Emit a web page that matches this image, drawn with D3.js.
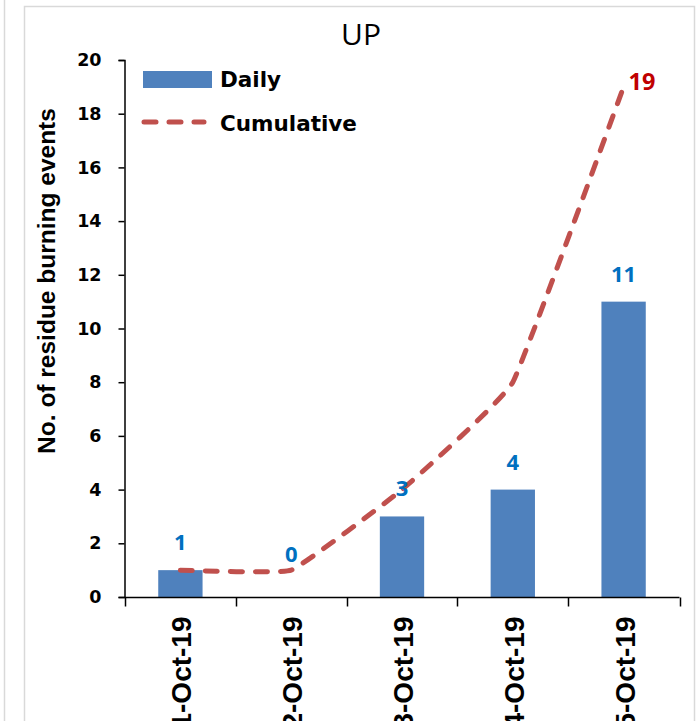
<!DOCTYPE html>
<html>
<head>
<meta charset="utf-8">
<script src="https://cdn.jsdelivr.net/npm/d3@7"></script>
<style>
    body { margin: 0; background: #fff; }
    svg { display: block; }
</style>
</head>
<body>
<div id="chart"></div>
<script>
//Chart values
var dates = ["1-Oct-19", "2-Oct-19", "3-Oct-19", "4-Oct-19", "5-Oct-19"];
var daily = [1, 0, 3, 4, 11];
var cumulative = [1, 1, 4, 8, 19];
var yTicks = [0, 2, 4, 6, 8, 10, 12, 14, 16, 18, 20];
var seriesNames = ["Daily", "Cumulative"];

var width = 697,
    height = 721;

var svg = d3.select("#chart").append("svg")
    .attr("width", width)
    .attr("height", height);

//Frame lines like the spreadsheet chart area
svg.append("line")
    .attr("x1", 4.5).attr("x2", 4.5)
    .attr("y1", 0).attr("y2", height)
    .attr("stroke", "#d9d9d9").attr("stroke-width", 1.5);
svg.append("rect")
    .attr("x", 24.5).attr("y", 6.5)
    .attr("width", 670).attr("height", height + 20)
    .attr("fill", "#fff")
    .attr("stroke", "#d9d9d9").attr("stroke-width", 1.5);

//Scales
var x = d3.scaleBand()
    .domain(dates)
    .range([125, 679])
    .paddingInner(0.6)
    .paddingOuter(0.3);

var y = d3.scaleLinear()
    .domain([0, 20])
    .range([597, 60]);

function cx(d) {
    return x(d) + x.bandwidth() / 2;
}

//Title
svg.append("text")
    .attr("x", 361)
    .attr("y", 45)
    .attr("text-anchor", "middle")
    .style("font-family", "'Open Sans', sans-serif")
    .style("font-size", "30px")
    .text("UP");

//Bars
svg.append("g").selectAll("rect")
    .data(daily)
    .enter().append("rect")
    .attr("x", function (d, i) { return x(dates[i]); })
    .attr("y", function (d) { return y(d); })
    .attr("width", x.bandwidth())
    .attr("height", function (d) { return y(0) - y(d); })
    .attr("fill", "#4F81BD");

//Y axis
var yAxis = svg.append("g")
    .attr("transform", "translate(124.5,0)")
    .call(d3.axisLeft(y).tickValues(yTicks).tickSize(6).tickPadding(17));
yAxis.select(".domain").attr("stroke-width", 1.5);
yAxis.selectAll(".tick line").attr("stroke-width", 1.5);
yAxis.selectAll(".tick text")
    .style("font-family", "'DejaVu Sans', sans-serif")
    .style("font-weight", "bold")
    .style("font-size", "17.5px")
    .attr("fill", "#000");

//X axis - ticks sit on the band edges, excel style
var xAxisG = svg.append("g").attr("transform", "translate(0,597.5)");
xAxisG.append("line")
    .attr("x1", 124.5).attr("x2", 679.5)
    .attr("stroke", "#000").attr("stroke-width", 1.5);
var edges = dates.map(function (d) { return x(d) - x.step() * x.paddingInner() / 2; });
edges.push(679.5);
xAxisG.selectAll(".edge")
    .data(edges)
    .enter().append("line")
    .attr("class", "edge")
    .attr("x1", function (d) { return Math.round(d) + 0.5; })
    .attr("x2", function (d) { return Math.round(d) + 0.5; })
    .attr("y1", 0).attr("y2", 9)
    .attr("stroke", "#000").attr("stroke-width", 1.5);
xAxisG.selectAll(".lbl")
    .data(dates)
    .enter().append("text")
    .attr("class", "lbl")
    .attr("transform", function (d) { return "translate(" + (cx(d) + 11) + ",19) rotate(-90)"; })
    .attr("text-anchor", "end")
    .style("font-family", "'Liberation Sans', Arial, sans-serif")
    .style("font-weight", "bold")
    .style("font-size", "28px")
    .text(function (d) { return d; });

//Y axis title
svg.append("text")
    .attr("transform", "translate(55,281) rotate(-90)")
    .attr("text-anchor", "middle")
    .style("font-family", "'Liberation Sans', Arial, sans-serif")
    .style("font-weight", "bold")
    .style("font-size", "24.5px")
    .text("No. of residue burning events");

//Cumulative line (lightly smoothed, dashed)
var line = d3.line()
    .x(function (d, i) { return cx(dates[i]); })
    .y(function (d) { return y(d); })
    .curve(d3.curveCardinal.tension(0.72));

svg.append("path")
    .datum(cumulative)
    .attr("d", line)
    .attr("fill", "none")
    .attr("stroke", "#C0504D")
    .attr("stroke-width", 5)
    .attr("stroke-linecap", "round")
    .attr("stroke-dasharray", "12,13");

//Daily data labels
svg.append("g").selectAll("text")
    .data(daily)
    .enter().append("text")
    .attr("x", function (d, i) { return cx(dates[i]); })
    .attr("y", function (d, i) {
        //zero labels get pushed above the line like excel does
        return d === 0 ? y(cumulative[i]) - 8 : y(d) - 20;
    })
    .attr("text-anchor", "middle")
    .attr("fill", "#0070C0")
    .style("font-family", "'Open Sans', sans-serif")
    .style("font-weight", "bold")
    .style("font-size", "22px")
    .text(function (d) { return d; });

//Cumulative label only on the last point
var last = cumulative.length - 1;
svg.append("text")
    .attr("x", cx(dates[last]) + 5)
    .attr("y", y(cumulative[last]) + 3)
    .attr("fill", "#C00000")
    .style("font-family", "'Open Sans', sans-serif")
    .style("font-weight", "bold")
    .style("font-size", "23.5px")
    .text(cumulative[last]);

//Legend
var legend = svg.append("g");
legend.append("rect")
    .attr("x", 143).attr("y", 71)
    .attr("width", 69).attr("height", 17)
    .attr("fill", "#4F81BD");
legend.append("line")
    .attr("x1", 144).attr("x2", 204)
    .attr("y1", 122).attr("y2", 122)
    .attr("stroke", "#C0504D")
    .attr("stroke-width", 5)
    .attr("stroke-linecap", "round")
    .attr("stroke-dasharray", "12,13");
legend.selectAll("text")
    .data(seriesNames)
    .enter().append("text")
    .attr("x", 220)
    .attr("y", function (d, i) { return 87 + i * 43.5; })
    .style("font-family", "'DejaVu Sans', sans-serif")
    .style("font-weight", "bold")
    .style("font-size", "21.5px")
    .text(function (d) { return d; });
</script>
</body>
</html>
